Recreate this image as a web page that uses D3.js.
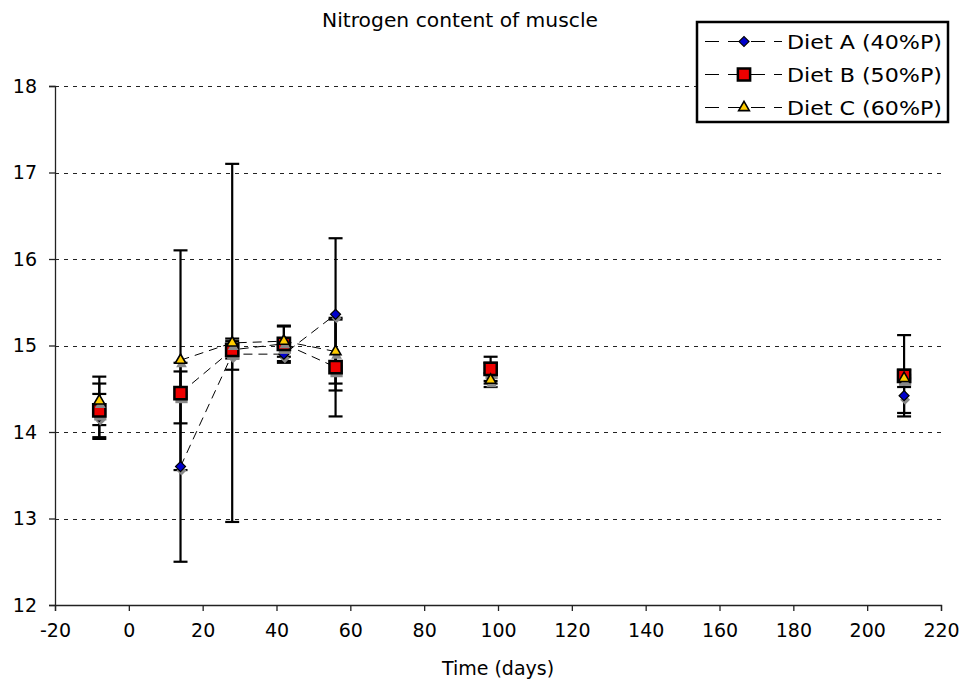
<!DOCTYPE html>
<html>
<head>
<meta charset="utf-8">
<script src="https://cdn.jsdelivr.net/npm/d3@7"></script>
<style>
  body { margin: 0; background: #fff; }
  svg { font-family: Verdana, "DejaVu Sans", sans-serif; }
</style>
</head>
<body>
<svg id="chart" width="961" height="687"></svg>
<script>
// sampling days
var days = [-8, 14, 28, 42, 56, 98, 210];
// a point is joined to the previous one by the dashed line
var joined = [false, false, true, true, true, false, false];

var series_names = ["Diet A (40%P)", "Diet B (50%P)", "Diet C (60%P)"];
var diet_a = [14.18, 13.6, 14.9, 14.9, 15.36, 14.68, 14.42];
var diet_b = [14.25, 14.45, 14.95, 15.02, 14.75, 14.73, 14.65];
var diet_c = [14.36, 14.83, 15.03, 15.05, 14.93, 14.6, 14.62];
// standard deviations (error bars)
var err_a = [0.26, 1.1, 0.18, 0.1, 0.88, 0.12, 0.2];
var err_b = [0.31, 0.35, 0.1, 0.2, 0.57, 0.14, 0.47];
var err_c = [0.28, 1.27, 2.07, 0.18, 0.37, 0.08, 0.1];

var x_ticks = [-20, 0, 20, 40, 60, 80, 100, 120, 140, 160, 180, 200, 220];
var y_ticks = [12, 13, 14, 15, 16, 17, 18];

var svg = d3.select("#chart");
var plot_left = 55, plot_right = 941, plot_top = 86, plot_bottom = 605;

var x = d3.scaleLinear().domain([-20, 220]).range([plot_left, plot_right]);
var y = d3.scaleLinear().domain([12, 18]).range([plot_bottom, plot_top]);

// title
svg.append("text")
    .attr("x", 460).attr("y", 27)
    .attr("text-anchor", "middle")
    .style("font-size", "19px")
    .attr("textLength", 276)
    .attr("lengthAdjust", "spacingAndGlyphs")
    .text("Nitrogen content of muscle");

// gridlines
svg.append("g")
    .selectAll("line")
    .data(y_ticks.slice(1))
    .enter().append("line")
    .attr("x1", plot_left).attr("x2", plot_right)
    .attr("y1", function(d) { return Math.round(y(d)) + 0.5; })
    .attr("y2", function(d) { return Math.round(y(d)) + 0.5; })
    .attr("stroke", "#222")
    .attr("stroke-width", 1)
    .attr("stroke-dasharray", "4,5");

// axes
var x_axis = svg.append("g")
    .attr("transform", "translate(0," + plot_bottom + ")")
    .call(d3.axisBottom(x).tickValues(x_ticks).tickSize(6).tickPadding(10)
        .tickFormat(function(d) { return d < 0 ? "-" + Math.abs(d) : d; }));
var y_axis = svg.append("g")
    .attr("transform", "translate(" + plot_left + ",0)")
    .call(d3.axisLeft(y).tickValues(y_ticks).tickSize(6).tickPadding(12)
        .tickFormat(d3.format("d")));

[x_axis, y_axis].forEach(function(ax) {
    ax.select(".domain").attr("stroke", "#222").attr("stroke-width", 1.3);
    ax.selectAll(".tick line").attr("stroke", "#222").attr("stroke-width", 1.3);
    ax.selectAll("text")
        .style("font-family", "Verdana, 'DejaVu Sans', sans-serif")
        .style("font-size", "19px")
        .attr("fill", "#000");
});
x_axis.selectAll("text").attr("dy", "0.85em");

svg.append("text")
    .attr("x", (plot_left + plot_right) / 2).attr("y", 675)
    .attr("text-anchor", "middle")
    .style("font-size", "19px")
    .text("Time (days)");

// diamond drawn as a rotated square
var series = [
    { name: series_names[0], values: diet_a, errs: err_a, shape: d3.symbolSquare, rot: 45, size: 50, fill: "#0000cc", stroke: "#000", sw: 1.2 },
    { name: series_names[1], values: diet_b, errs: err_b, shape: d3.symbolSquare, rot: 0, size: 150, fill: "#ee0000", stroke: "#000", sw: 2.5 },
    { name: series_names[2], values: diet_c, errs: err_c, shape: d3.symbolTriangle, rot: 0, size: 50, fill: "#ffcc00", stroke: "#000", sw: 1.6 }
];

// dashed connecting lines
var line = d3.line()
    .x(function(d) { return x(d.day); })
    .y(function(d) { return y(d.value); });

series.forEach(function(s) {
    var segments = [];
    days.forEach(function(day, i) {
        var pt = { day: day, value: s.values[i] };
        if (joined[i] && segments.length) segments[segments.length - 1].push(pt);
        else segments.push([pt]);
    });
    svg.append("g")
        .selectAll("path")
        .data(segments.filter(function(seg) { return seg.length > 1; }))
        .enter().append("path")
        .attr("d", line)
        .attr("fill", "none")
        .attr("stroke", "#000")
        .attr("stroke-width", 1)
        .attr("stroke-dasharray", "9,6");
});

// error bars
series.forEach(function(s) {
    var g = svg.append("g").attr("stroke", "#000").attr("stroke-width", 2.2);
    days.forEach(function(day, i) {
        var hi = y(s.values[i] + s.errs[i]), lo = y(s.values[i] - s.errs[i]);
        var cx = x(day);
        g.append("line").attr("x1", cx).attr("x2", cx).attr("y1", hi).attr("y2", lo);
        g.append("line").attr("x1", cx - 7).attr("x2", cx + 7).attr("y1", hi).attr("y2", hi);
        g.append("line").attr("x1", cx - 7).attr("x2", cx + 7).attr("y1", lo).attr("y2", lo);
    });
});

// markers with shadows
function marker(g, s, px, py, shadow) {
    if (shadow) {
        g.append("path")
            .attr("d", d3.symbol().type(s.shape).size(s.size))
            .attr("transform", "translate(" + (px + 1) + "," + (py + 4) + ") rotate(" + s.rot + ")")
            .attr("fill", "#888");
    }
    g.append("path")
        .attr("d", d3.symbol().type(s.shape).size(s.size))
        .attr("transform", "translate(" + px + "," + py + ") rotate(" + s.rot + ")")
        .attr("fill", s.fill)
        .attr("stroke", s.stroke)
        .attr("stroke-width", s.sw);
}

series.forEach(function(s) {
    var g = svg.append("g");
    days.forEach(function(day, i) {
        marker(g, s, x(day), y(s.values[i]), true);
    });
});

// legend
var legend = svg.append("g");
legend.append("rect")
    .attr("x", 697).attr("y", 22)
    .attr("width", 251).attr("height", 100)
    .attr("fill", "#fff")
    .attr("stroke", "#000")
    .attr("stroke-width", 2.5);

series.forEach(function(s, i) {
    var ly = 41.5 + i * 33;
    legend.append("line")
        .attr("x1", 705).attr("x2", 782)
        .attr("y1", ly).attr("y2", ly)
        .attr("stroke", "#000")
        .attr("stroke-width", 1)
        .attr("stroke-dasharray", "14,9");
    marker(legend, s, 744, ly, false);
    legend.append("text")
        .attr("x", 787).attr("y", ly + 7)
        .style("font-size", "20px")
        .attr("textLength", 155)
        .attr("lengthAdjust", "spacingAndGlyphs")
        .text(s.name);
});
</script>
</body>
</html>
